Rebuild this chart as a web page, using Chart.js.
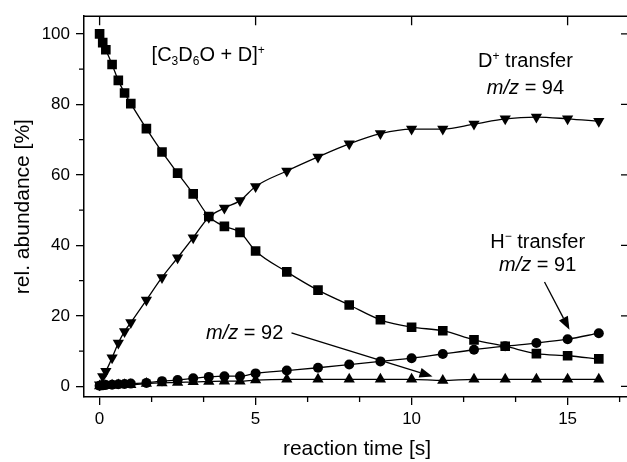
<!DOCTYPE html>
<html>
<head>
<meta charset="utf-8">
<script src="https://cdn.jsdelivr.net/npm/chart.js@4/dist/chart.umd.min.js"></script>
<style>
  html, body { margin: 0; padding: 0; background: #fff; overflow: hidden; }
  #wrap { width: 640px; height: 462px; }
</style>
</head>
<body>
<div id="wrap"><canvas id="chart" width="640" height="462"></canvas></div>
<script>
// reaction time [s]
const times = [0, 0.1, 0.2, 0.4, 0.6, 0.8, 1.0, 1.5, 2, 2.5, 3, 3.5, 4, 4.5, 5, 6, 7, 8, 9, 10, 11, 12, 13, 14, 15, 16];
// [C3D6O + D]+ (squares)
const parentIon = [100, 97.5, 95.5, 91.3, 86.8, 83.2, 80.2, 73.1, 66.5, 60.5, 54.6, 48.2, 45.4, 43.7, 38.4, 32.5, 27.3, 23.1, 18.9, 16.8, 15.8, 13.2, 11.4, 9.3, 8.7, 7.8];
// D+ transfer, m/z = 94 (down triangles)
const dTransfer = [0.5, 2.8, 4.3, 8.1, 12.3, 15.6, 18.1, 24.5, 30.9, 36.5, 42.2, 48.0, 50.6, 52.7, 56.7, 61.1, 65.1, 68.8, 71.7, 73.0, 73.0, 74.4, 75.9, 76.4, 75.9, 75.2];
// H- transfer, m/z = 91 (circles)
const hTransfer = [0.2, 0.3, 0.4, 0.5, 0.6, 0.7, 0.8, 1.0, 1.5, 1.8, 2.3, 2.7, 2.9, 2.9, 3.7, 4.5, 5.3, 6.2, 7.1, 8.0, 9.2, 10.4, 11.4, 12.3, 13.4, 15.1];
// m/z = 92 (up triangles)
const mz92 = [0.1, 0.2, 0.2, 0.3, 0.4, 0.5, 0.5, 0.8, 1.0, 1.1, 1.3, 1.4, 1.5, 1.5, 1.8, 2.0, 2.0, 2.0, 2.0, 2.0, 1.7, 2.0, 2.0, 2.0, 2.0, 2.0];

// tick labels
const xMajor = [0, 5, 10, 15];
const xMinor = [1.667, 3.333, 6.667, 8.333, 11.667, 13.333, 16.667];
const yMajor = [0, 20, 40, 60, 80, 100];
const yMinor = [10, 30, 50, 70, 90];

const FONT = "'Liberation Sans', Arial, Helvetica, sans-serif";

// annotation texts (data coordinates of their centres)
const notes = [
  { x: 3.48, y: 94.4, parts: [{ t: '[C' }, { t: '3', sub: true }, { t: 'D' }, { t: '6', sub: true }, { t: 'O + D]' }, { t: '+', sup: true }] },
  { x: 13.65, y: 92.7, parts: [{ t: 'D' }, { t: '+', sup: true }, { t: ' transfer' }] },
  { x: 13.65, y: 85.1, parts: [{ t: 'm/z', italic: true }, { t: ' = 94' }] },
  { x: 14.04, y: 41.4, parts: [{ t: 'H' }, { t: '\u2212', sup: true }, { t: ' transfer' }] },
  { x: 14.04, y: 34.9, parts: [{ t: 'm/z', italic: true }, { t: ' = 91' }] },
  { x: 4.65, y: 15.5, parts: [{ t: 'm/z', italic: true }, { t: ' = 92' }] }
];
const arrows = [
  { from: [14.26, 29.6], to: [15.06, 16.1] },
  { from: [6.15, 15.2], to: [10.67, 2.8] }
];

function richText(ctx, parts, cx, cy, size) {
  const fontFor = p => (p.italic ? 'italic ' : '') + ((p.sub || p.sup) ? Math.round(size * 0.62) : size) + 'px ' + FONT;
  let w = 0;
  parts.forEach(p => { ctx.font = fontFor(p); w += ctx.measureText(p.t).width; });
  let xx = cx - w / 2;
  const base = cy + size * 0.36;
  ctx.textAlign = 'left';
  ctx.textBaseline = 'alphabetic';
  parts.forEach(p => {
    ctx.font = fontFor(p);
    const dy = p.sub ? size * 0.22 : p.sup ? -size * 0.36 : 0;
    ctx.fillText(p.t, xx, base + dy);
    xx += ctx.measureText(p.t).width;
  });
}

const frame = {
  id: 'frame',
  afterDraw(chart) {
    const { ctx, chartArea: a, scales: { x, y } } = chart;
    ctx.save();
    ctx.strokeStyle = '#000';
    ctx.fillStyle = '#000';
    ctx.lineWidth = 1.5;
    ctx.beginPath();
    ctx.moveTo(a.left, a.top);
    ctx.lineTo(a.right, a.top);
    ctx.lineTo(a.right, a.bottom);
    ctx.stroke();

    ctx.lineWidth = 1.3;
    ctx.beginPath();
    xMajor.forEach(v => { const px = x.getPixelForValue(v); ctx.moveTo(px, a.top); ctx.lineTo(px, a.top + 9); });
    yMajor.forEach(v => { const py = y.getPixelForValue(v); ctx.moveTo(a.right, py); ctx.lineTo(a.right - 9, py); });
    xMinor.forEach(v => { const px = x.getPixelForValue(v); ctx.moveTo(px, a.bottom); ctx.lineTo(px, a.bottom + 5); });
    yMinor.forEach(v => { const py = y.getPixelForValue(v); ctx.moveTo(a.left, py); ctx.lineTo(a.left - 5, py); });
    ctx.stroke();

    // arrows
    arrows.forEach(ar => {
      const x1 = x.getPixelForValue(ar.from[0]), y1 = y.getPixelForValue(ar.from[1]);
      const x2 = x.getPixelForValue(ar.to[0]), y2 = y.getPixelForValue(ar.to[1]);
      const ang = Math.atan2(y2 - y1, x2 - x1);
      const len = 13, half = 5;
      const bx = x2 - len * Math.cos(ang), by = y2 - len * Math.sin(ang);
      ctx.lineWidth = 1.3;
      ctx.beginPath();
      ctx.moveTo(x1, y1);
      ctx.lineTo(bx, by);
      ctx.stroke();
      ctx.beginPath();
      ctx.moveTo(x2, y2);
      ctx.lineTo(bx + half * Math.sin(ang), by - half * Math.cos(ang));
      ctx.lineTo(bx - half * Math.sin(ang), by + half * Math.cos(ang));
      ctx.closePath();
      ctx.fill();
    });

    notes.forEach(n => richText(ctx, n.parts, x.getPixelForValue(n.x), y.getPixelForValue(n.y), 20));
    ctx.restore();
  }
};

function series(values, style, rotation, radius) {
  return {
    data: times.map((t, i) => ({ x: t, y: values[i] })),
    borderColor: '#000',
    borderWidth: 1.3,
    backgroundColor: '#000',
    pointStyle: style,
    rotation: rotation,
    pointRadius: radius,
    pointBorderWidth: 0,
    pointBackgroundColor: '#000',
    cubicInterpolationMode: 'monotone',
    fill: false
  };
}

new Chart(document.getElementById('chart'), {
  type: 'line',
  data: {
    datasets: [
      series(mz92, 'triangle', 0, 6.5),
      series(hTransfer, 'circle', 0, 5),
      series(dTransfer, 'triangle', 180, 6.5),
      series(parentIon, 'rect', 0, 6.8)
    ]
  },
  options: {
    responsive: false,
    animation: false,
    layout: { padding: { top: 13, right: 10, left: 0, bottom: 0 } },
    plugins: { legend: { display: false }, tooltip: { enabled: false } },
    scales: {
      x: {
        type: 'linear',
        min: -0.5,
        max: 17,
        afterFit: s => { s.height = 65; },
        afterBuildTicks: s => { s.ticks = xMajor.map(v => ({ value: v })); },
        grid: { drawOnChartArea: false, color: '#000', tickLength: 8, lineWidth: 1.3 },
        border: { color: '#000', width: 1.5 },
        ticks: { color: '#000', font: { family: FONT, size: 17 }, padding: 4, maxRotation: 0, autoSkip: false },
        title: { display: true, text: 'reaction time [s]', color: '#000', font: { family: FONT, size: 21 }, padding: { top: 0, bottom: 0 } }
      },
      y: {
        min: -3,
        max: 105,
        afterFit: s => { s.width = 84; },
        afterBuildTicks: s => { s.ticks = yMajor.map(v => ({ value: v })); },
        grid: { drawOnChartArea: false, color: '#000', tickLength: 8, lineWidth: 1.3 },
        border: { color: '#000', width: 1.5 },
        ticks: { color: '#000', font: { family: FONT, size: 17 }, padding: 6, autoSkip: false },
        title: { display: true, text: 'rel. abundance [%]', color: '#000', font: { family: FONT, size: 21 }, padding: { top: 11, bottom: 0 } }
      }
    }
  },
  plugins: [frame]
});
</script>
</body>
</html>
